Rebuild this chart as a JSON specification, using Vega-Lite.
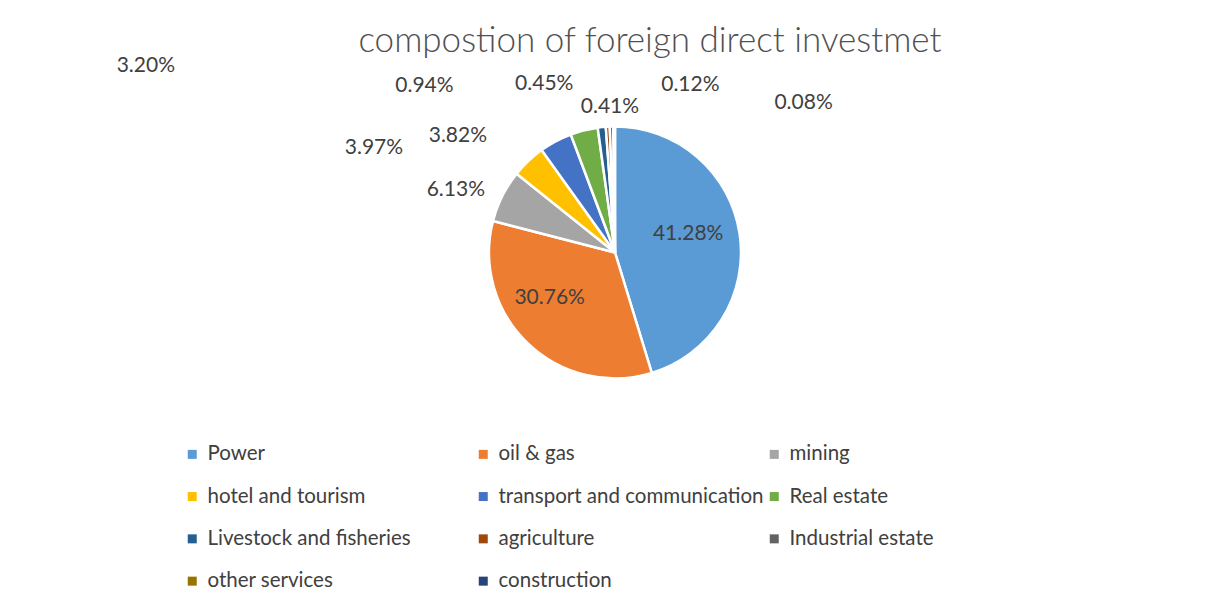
{
  "$schema": "https://vega.github.io/schema/vega-lite/v6.json",
  "width": 1184,
  "height": 505,
  "padding": {"left": 23, "top": 0, "right": 0, "bottom": 105},
  "autosize": {"type": "none"},
  "background": "white",
  "title": {
    "text": "compostion of foreign direct investmet",
    "frame": "group",
    "anchor": "middle",
    "orient": "top",
    "baseline": "alphabetic",
    "offset": -51,
    "dy": 36,
    "dx": 35,
    "font": "Lato",
    "fontSize": 35,
    "fontWeight": 300,
    "color": "#505050"
  },
  "data": {
    "values": [
      {"sector": "Power", "share": 0.4128},
      {"sector": "oil & gas", "share": 0.3076},
      {"sector": "mining", "share": 0.0613},
      {"sector": "hotel and tourism", "share": 0.0397},
      {"sector": "transport and communication", "share": 0.0382},
      {"sector": "Real estate", "share": 0.0320},
      {"sector": "Livestock and fisheries", "share": 0.0094},
      {"sector": "agriculture", "share": 0.0045},
      {"sector": "Industrial estate", "share": 0.0041},
      {"sector": "other services", "share": 0.0012},
      {"sector": "construction", "share": 0.0008}
    ]
  },
  "transform": [{"window": [{"op": "row_number", "as": "idx"}]}],
  "encoding": {
    "theta": {"field": "share", "type": "quantitative", "stack": true},
    "order": {"field": "idx", "type": "quantitative"},
    "detail": {"field": "sector", "type": "nominal"}
  },
  "layer": [
    {
      "mark": {"type": "arc", "outerRadius": 126, "stroke": "white", "strokeWidth": 2.5},
      "encoding": {
        "color": {
          "field": "sector",
          "type": "nominal",
          "scale": {
            "domain": ["Power", "hotel and tourism", "Livestock and fisheries", "other services", "oil & gas", "transport and communication", "agriculture", "construction", "mining", "Real estate", "Industrial estate"],
            "range": ["#5B9BD5", "#FFC000", "#255E91", "#997300", "#ED7D31", "#4472C4", "#9E480E", "#264478", "#A5A5A5", "#70AD47", "#636363"]
          },
          "legend": {
            "title": null,
            "orient": "none",
            "legendX": 159,
            "legendY": 444,
            "columns": 3,
            "gridAlign": "all",
            "symbolType": "square",
            "symbolSize": 81,
            "symbolStrokeWidth": 0,
            "labelFont": "Lato",
            "labelFontSize": 20.5,
            "labelColor": "#404040",
            "labelOffset": 5,
            "labelLimit": 400,
            "rowPadding": 21.3,
            "columnPadding": -2,
            "padding": 0
          }
        }
      }
    },
    {"mark": {"type": "text", "radius": 75, "dx": -1, "dy": -7},
     "encoding": {"text": {"condition": {"test": "datum.sector === 'Power'", "field": "share", "type": "quantitative", "format": ".2%"}, "value": ""}}},
    {"mark": {"type": "text", "radius": 80, "dx": -10, "dy": -12},
     "encoding": {"text": {"condition": {"test": "datum.sector === 'oil & gas'", "field": "share", "type": "quantitative", "format": ".2%"}, "value": ""}}},
    {"mark": {"type": "text", "radius": 140, "dx": -34, "dy": 0},
     "encoding": {"text": {"condition": {"test": "datum.sector === 'mining'", "field": "share", "type": "quantitative", "format": ".2%"}, "value": ""}}},
    {"mark": {"type": "text", "radius": 144, "dx": -142, "dy": 0},
     "encoding": {"text": {"condition": {"test": "datum.sector === 'hotel and tourism'", "field": "share", "type": "quantitative", "format": ".2%"}, "value": ""}}},
    {"mark": {"type": "text", "radius": 132, "dx": -95, "dy": 0},
     "encoding": {"text": {"condition": {"test": "datum.sector === 'transport and communication'", "field": "share", "type": "quantitative", "format": ".2%"}, "value": ""}}},
    {"mark": {"type": "text", "radius": 192, "dx": -422, "dy": 0},
     "encoding": {"text": {"condition": {"test": "datum.sector === 'Real estate'", "field": "share", "type": "quantitative", "format": ".2%"}, "value": ""}}},
    {"mark": {"type": "text", "radius": 167, "dx": -173, "dy": 0},
     "encoding": {"text": {"condition": {"test": "datum.sector === 'Livestock and fisheries'", "field": "share", "type": "quantitative", "format": ".2%"}, "value": ""}}},
    {"mark": {"type": "text", "radius": 169, "dx": -61, "dy": 0},
     "encoding": {"text": {"condition": {"test": "datum.sector === 'agriculture'", "field": "share", "type": "quantitative", "format": ".2%"}, "value": ""}}},
    {"mark": {"type": "text", "radius": 146, "dx": -1, "dy": 0},
     "encoding": {"text": {"condition": {"test": "datum.sector === 'Industrial estate'", "field": "share", "type": "quantitative", "format": ".2%"}, "value": ""}}},
    {"mark": {"type": "text", "radius": 168, "dx": 77, "dy": 0},
     "encoding": {"text": {"condition": {"test": "datum.sector === 'other services'", "field": "share", "type": "quantitative", "format": ".2%"}, "value": ""}}},
    {"mark": {"type": "text", "radius": 150, "dx": 189, "dy": 0},
     "encoding": {"text": {"condition": {"test": "datum.sector === 'construction'", "field": "share", "type": "quantitative", "format": ".2%"}, "value": ""}}}
  ],
  "config": {
    "view": {"stroke": null},
    "text": {"font": "Lato", "fontSize": 21, "color": "#404040", "align": "center", "baseline": "middle"}
  }
}
